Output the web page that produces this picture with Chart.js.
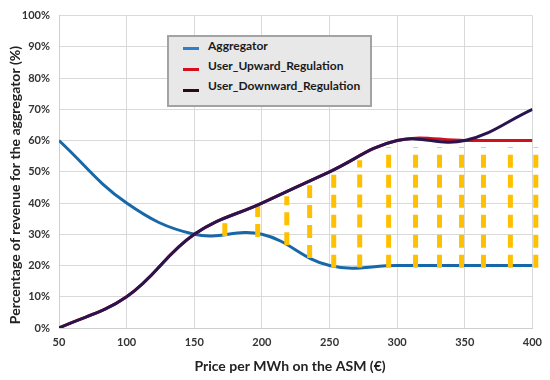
<!DOCTYPE html>
<html>
<head>
<meta charset="utf-8">
<script src="https://cdn.jsdelivr.net/npm/chart.js@4"></script>
<style>
  html, body { margin: 0; padding: 0; background: #fff; }
  #wrap { position: relative; width: 550px; height: 380px; }
  .lg { position: absolute; left: 167px; top: 35px; width: 201px; height: 68px;
        background: #e8e8e8; border: 2px solid #a3a3a3; font: bold 12px Lato, sans-serif; color: #1a1a1a; }
  .lg div { position: absolute; left: 39px; white-space: nowrap; }
  .lg span { position: absolute; left: -25px; width: 16px; height: 3px; }
</style>
</head>
<body>
<div id="wrap">
  <canvas id="c"></canvas>
  <div class="lg">
    <div style="top:1px"><span style="top:9px;background:#2e7fcf"></span>Aggregator</div>
    <div style="top:21px"><span style="top:10px;background:#d5101c"></span>User_Upward_Regulation</div>
    <div style="top:41px"><span style="top:11px;background:#2a0a14"></span>User_Downward_Regulation</div>
  </div>
</div>
<script>
// ── data ──
const priceX     = [50, 100, 150, 200, 250, 300, 350, 400]
const aggregator = [60, 40, 30, 30, 20, 20, 20, 20]
const upward     = [0, 10, 30, 40, 50, 60, 60, 60]
const downward   = [0, 10, 30, 40, 50, 60, 60, 70]

// yellow dashed ranges
const dashX    = [172.6, 196.9, 218.4, 235.3, 253.1, 272.3, 293.7, 313.6, 331.3, 347.6, 363.8, 383.7, 402.5]
const dashLow  = [29.4, 29.1, 26.5, 22.4, 19.3, 19.4, 19.3, 19.3, 19.3, 19.3, 19.3, 19.3, 19.3]
const dashHigh = [34.2, 39.3, 42.2, 45.7, 49.8, 53.7, 57.9, 57.9, 57.9, 57.9, 57.9, 57.9, 57.9]

const xTitle = 'Price per MWh on the ASM (€)'
const yTitle = 'Percentage of revenue for the aggregator (%)'

const pts = ys => priceX.map((x, i) => ({ x, y: ys[i] }))

const curve = (label, ys, color, order) => ({
  label, data: pts(ys), borderColor: color, borderWidth: 3,
  pointRadius: 0, tension: 0.4, fill: false, order,
})

const dashSets = dashX.map((x, i) => ({
  label: 'range' + i,
  data: [{ x, y: dashLow[i] }, { x, y: dashHigh[i] }],
  borderColor: '#ffc000', borderWidth: 5, borderDash: [13, 7],
  borderCapStyle: 'butt', pointRadius: 0, clip: false, order: 2,
}))

const tickFont = { family: 'Lato', size: 11, weight: 'bold' }

// axis titles, placed like the original (slightly off the plot centre)
const axisTitles = {
  id: 'axisTitles',
  afterDraw(chart) {
    const ctx = chart.ctx
    ctx.save()
    ctx.font = 'bold 14px Lato'
    ctx.fillStyle = '#222'
    ctx.textAlign = 'center'
    ctx.textBaseline = 'middle'
    ctx.fillText(xTitle, 290, 366)
    ctx.translate(15, 185)
    ctx.rotate(-Math.PI / 2)
    ctx.fillText(yTitle, 0, 0)
    ctx.restore()
  }
}

new Chart(document.getElementById('c'), {
  type: 'line',
  data: {
    datasets: [
      curve('Aggregator', aggregator, '#1768a8', 3),
      ...dashSets,
      curve('User_Upward_Regulation', upward, '#d0101a', 1),
      curve('User_Downward_Regulation', downward, '#2a1450', 0),
    ]
  },
  options: {
    responsive: true, maintainAspectRatio: false, animation: false,
    layout: { padding: { top: 15, right: 17, left: 0, bottom: 0 } },
    plugins: { legend: { display: false }, tooltip: { enabled: false } },
    scales: {
      x: {
        type: 'linear', min: 50, max: 400,
        ticks: { stepSize: 50, color: '#333', font: tickFont, padding: 8 },
        grid: { color: '#d9d9d9', drawTicks: false },
        border: { color: '#cfcfcf' },
        afterFit: s => { s.height = 52 },
      },
      y: {
        min: 0, max: 100,
        ticks: { stepSize: 10, color: '#333', font: tickFont, padding: 9, callback: v => v + '%' },
        grid: { color: '#d9d9d9', drawTicks: false },
        border: { color: '#cfcfcf' },
        afterFit: s => { s.width = 59 },
      },
    },
  },
  plugins: [axisTitles],
})
</script>
</body>
</html>
